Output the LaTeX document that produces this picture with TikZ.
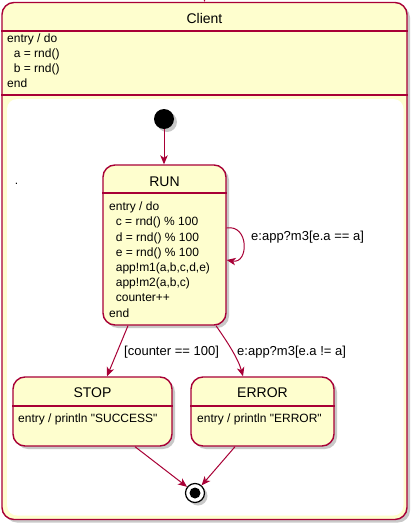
\documentclass[tikz,border=0pt]{standalone}
\usepackage{fontspec}
\setmainfont{Liberation Sans}[Ligatures=TeXOff]
\usetikzlibrary{arrows.meta,shadows}
\definecolor{pred}{HTML}{A80036}
\definecolor{pfill}{HTML}{FEFECE}
\newcommand{\ind}{\hspace*{6.7pt}}
\begin{document}
\begin{tikzpicture}[x=1pt,y=-1pt,
  shad/.style={drop shadow={shadow xshift=3pt,shadow yshift=-3pt,opacity=0.3,fill=black!70}},
  box/.style={draw=pred,fill=pfill,line width=1.4pt,rounded corners=12pt,inner sep=0pt,shad},
  sep/.style={draw=pred,line width=1.4pt},
  hdr/.style={font=\fontsize{14}{16}\selectfont,inner sep=0pt},
  body/.style={font=\fontsize{12}{15}\selectfont,align=left,inner sep=0pt,anchor=base west},
  lbl/.style={font=\fontsize{13}{15}\selectfont,inner sep=0pt,anchor=base west},
  conn/.style={draw=pred,line width=1pt,-{Stealth[length=9pt,width=7.5pt,inset=2.5pt]}},
  startc/.style={circle,fill=black,minimum size=20pt,inner sep=0pt,shad},
  endo/.style={circle,draw=black,line width=1.2pt,fill=white,minimum size=19pt,inner sep=0pt,shad},
  endi/.style={circle,fill=black,minimum size=11pt,inner sep=0pt}]
\useasboundingbox (0,0) rectangle (415,525);
% Client composite state
\node[box,minimum width=405pt,minimum height=517pt] (client) at (204.5,261) {};
\coordinate (cl1) at (0,31);
\coordinate (cl2) at (0,95);
\draw[sep] (client.west |- cl1) -- (client.east |- cl1);
\draw[sep] (client.west |- cl2) -- (client.east |- cl2);
\fill[white,rounded corners=10pt] (7,99) rectangle (403.5,515.5);
\node[hdr] (clienttitle) at (204.5,18) {Client};
% base anchor = baseline of the last line
\node[body,font=\fontsize{12}{15}\selectfont] (clientbody) at (7,87) {entry / do\\\ind a = rnd()\\\ind b = rnd()\\end};
\coordinate (topin) at (204.5,-12);
\draw[conn] (topin) -- (client.north);
\node[body,anchor=center] (dot) at (16.5,184) {.};
% start
\node[startc] (start) at (164,119) {};
% RUN
\node[box,minimum width=123pt,minimum height=160pt] (run) at (164.5,245) {};
\coordinate (rl) at (0,193);
\draw[sep] (run.west |- rl) -- (run.east |- rl);
\node[hdr] (runtitle) at (164.5,182) {RUN};
\node[body,font=\fontsize{12}{15.2}\selectfont] (runbody) at (109,317) {entry / do\\\ind c = rnd() \% 100\\\ind d = rnd() \% 100\\\ind e = rnd() \% 100\\\ind app!m1(a,b,c,d,e)\\\ind app!m2(a,b,c)\\\ind counter++\\end};
% STOP
\node[box,minimum width=159pt,minimum height=69pt] (stop) at (92.5,411.5) {};
\coordinate (sl) at (0,406);
\draw[sep] (stop.west |- sl) -- (stop.east |- sl);
\node[hdr] (stoptitle) at (92.5,393) {STOP};
\node[body] (stopbody) at (18,422) {entry / println "SUCCESS"};
% ERROR
\node[box,minimum width=143pt,minimum height=69pt] (error) at (262.5,411.5) {};
\draw[sep] (error.west |- sl) -- (error.east |- sl);
\node[hdr] (errortitle) at (262.5,393) {ERROR};
\node[body] (errorbody) at (197,422) {entry / println "ERROR"};
% end
\node[endo] (endo) at (195,493) {};
\node[endi] (endi) at (195,493) {};
% connectors
\draw[conn] (start) -- (start |- run.north);
\coordinate (lp1) at (0,228);
\coordinate (lp2) at (0,260);
\draw[conn] (run.east |- lp1) .. controls (249,224) and (249,264) .. (run.east |- lp2);
\node[lbl] (l1) at (251,240) {e:app?m3[e.a == a]};
\coordinate (rs1) at (128,0);
\coordinate (st1) at (107,0);
\draw[conn] (run.south -| rs1) -- (stop.north -| st1);
\node[lbl] (l2) at (124,355.5) {[counter == 100]};
\coordinate (rs2) at (216,0);
\coordinate (er1) at (243,0);
\draw[conn] (run.south -| rs2) .. controls (226,340) and (238,358) .. (error.north -| er1);
\node[lbl] (l3) at (237,355.5) {e:app?m3[e.a != a]};
\coordinate (sb) at (135,0);
\coordinate (eb) at (235,0);
\draw[conn] (stop.south -| sb) -- (endo);
\draw[conn] (error.south -| eb) -- (endo);
\end{tikzpicture}
\end{document}
